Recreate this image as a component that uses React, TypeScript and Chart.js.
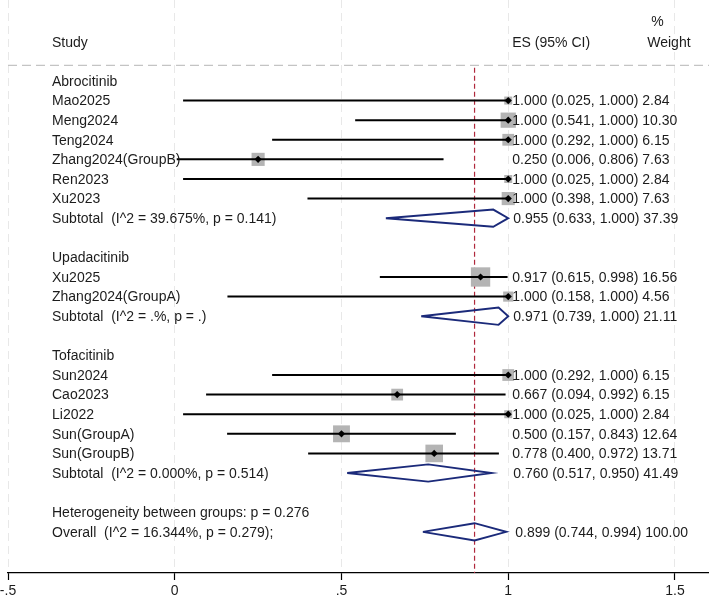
import { useEffect, useRef } from "react";
import { Chart, registerables } from "chart.js";

Chart.register(...registerables);

// ---- data ----
const GROUP_NAMES = ["Abrocitinib", "Upadacitinib", "Tofacitinib"];

const STUDY_NAMES = [
  "Mao2025",
  "Meng2024",
  "Teng2024",
  "Zhang2024(GroupB)",
  "Ren2023",
  "Xu2023",
  "Xu2025",
  "Zhang2024(GroupA)",
  "Sun2024",
  "Cao2023",
  "Li2022",
  "Sun(GroupA)",
  "Sun(GroupB)",
];
const STUDY_GROUP = [0, 0, 0, 0, 0, 0, 1, 1, 2, 2, 2, 2, 2];
const STUDY_ES = [1.0, 1.0, 1.0, 0.25, 1.0, 1.0, 0.917, 1.0, 1.0, 0.667, 1.0, 0.5, 0.778];
const STUDY_LO = [0.025, 0.541, 0.292, 0.006, 0.025, 0.398, 0.615, 0.158, 0.292, 0.094, 0.025, 0.157, 0.4];
const STUDY_HI = [1.0, 1.0, 1.0, 0.806, 1.0, 1.0, 0.998, 1.0, 1.0, 0.992, 1.0, 0.843, 0.972];
const STUDY_WEIGHT = [2.84, 10.3, 6.15, 7.63, 2.84, 7.63, 16.56, 4.56, 6.15, 6.15, 2.84, 12.64, 13.71];

const SUBTOTAL_LABELS = [
  "Subtotal  (I^2 = 39.675%, p = 0.141)",
  "Subtotal  (I^2 = .%, p = .)",
  "Subtotal  (I^2 = 0.000%, p = 0.514)",
];
const SUBTOTAL_ES = [0.955, 0.971, 0.76];
const SUBTOTAL_LO = [0.633, 0.739, 0.517];
const SUBTOTAL_HI = [1.0, 1.0, 0.95];
const SUBTOTAL_WEIGHT = [37.39, 21.11, 41.49];

const HETEROGENEITY_LABEL = "Heterogeneity between groups: p = 0.276";
const OVERALL_LABEL = "Overall  (I^2 = 16.344%, p = 0.279);";
const OVERALL_ES = 0.899;
const OVERALL_LO = 0.744;
const OVERALL_HI = 0.994;
const OVERALL_WEIGHT = 100.0;

const X_TICKS = [-0.5, 0, 0.5, 1, 1.5];
const X_TICK_LABELS = ["-.5", "0", ".5", "1", "1.5"];

// ---- row layout (one row per line of the table) ----
const studyRow: number[] = [];
const subtotalRow: number[] = [];
const groupRow: number[] = [];
let rowCursor = 0;
GROUP_NAMES.forEach((_, gi) => {
  groupRow[gi] = rowCursor++;
  STUDY_NAMES.forEach((__, si) => {
    if (STUDY_GROUP[si] === gi) studyRow[si] = rowCursor++;
  });
  subtotalRow[gi] = rowCursor++;
  rowCursor++; // blank line after each group
});
const heterogeneityRow = rowCursor++;
const overallRow = rowCursor++;

const HEADER_ROW = -2;
const PERCENT_ROW = -3.07;
const SEPARATOR_ROW = -0.8;
const Y_TOP = -4.13;
const Y_BOTTOM = overallRow + 2.1;
const X_MIN = -0.5;
const X_MAX = 1.602;
const DIAMOND_HALF = 0.44;
const SQUARE_SCALE = 4.75; // px of side per sqrt(% weight)
const AXIS_HEIGHT = 27;

const fmt = (es: number, lo: number, hi: number, w: number) =>
  `${es.toFixed(3)} (${lo.toFixed(3)}, ${hi.toFixed(3)}) ${w.toFixed(2)}`;

type Pt = { x: number; y: number | null };

function buildCiLines(): Pt[] {
  const pts: Pt[] = [];
  STUDY_NAMES.forEach((_, i) => {
    pts.push({ x: STUDY_LO[i], y: studyRow[i] });
    pts.push({ x: STUDY_HI[i], y: studyRow[i] });
    pts.push({ x: STUDY_HI[i], y: null });
  });
  return pts;
}

function diamond(es: number, lo: number, hi: number, row: number): Pt[] {
  return [
    { x: lo, y: row },
    { x: es, y: row - DIAMOND_HALF },
    { x: hi, y: row },
    { x: es, y: row + DIAMOND_HALF },
    { x: lo, y: row },
    { x: lo, y: null },
  ];
}

function buildDiamonds(): Pt[] {
  const pts: Pt[] = [];
  SUBTOTAL_ES.forEach((es, gi) => {
    pts.push(...diamond(es, SUBTOTAL_LO[gi], SUBTOTAL_HI[gi], subtotalRow[gi]));
  });
  pts.push(...diamond(OVERALL_ES, OVERALL_LO, OVERALL_HI, overallRow));
  return pts;
}

const FONT_FAMILY = '"Liberation Sans", Arial, sans-serif';
const FONT = `14px ${FONT_FAMILY}`;
const TEXT_COLOR = "#1c1c1c";

const tablePlugin = {
  id: "forestTable",
  afterDatasetsDraw(chart: any) {
    const { ctx, chartArea } = chart;
    const x = chart.scales.x;
    const y = chart.scales.y;
    const leftX = chartArea.left + 44;
    const esX = x.getPixelForValue(1) + 4;
    const wtX = esX + 135;
    ctx.save();
    ctx.font = FONT;
    ctx.fillStyle = TEXT_COLOR;
    ctx.textAlign = "left";
    ctx.textBaseline = "middle";
    const put = (t: string, px: number, row: number) => ctx.fillText(t, px, y.getPixelForValue(row) + 1);

    put("Study", leftX, HEADER_ROW);
    put("ES (95% CI)", esX, HEADER_ROW);
    put("%", wtX + 4, PERCENT_ROW);
    put("Weight", wtX, HEADER_ROW);

    GROUP_NAMES.forEach((g, gi) => {
      put(g, leftX, groupRow[gi]);
      put(SUBTOTAL_LABELS[gi], leftX, subtotalRow[gi]);
      put(fmt(SUBTOTAL_ES[gi], SUBTOTAL_LO[gi], SUBTOTAL_HI[gi], SUBTOTAL_WEIGHT[gi]), esX + 1, subtotalRow[gi]);
    });
    STUDY_NAMES.forEach((s, i) => {
      put(s, leftX, studyRow[i]);
      put(fmt(STUDY_ES[i], STUDY_LO[i], STUDY_HI[i], STUDY_WEIGHT[i]), esX, studyRow[i]);
    });
    put(HETEROGENEITY_LABEL, leftX, heterogeneityRow);
    put(OVERALL_LABEL, leftX, overallRow);
    put(fmt(OVERALL_ES, OVERALL_LO, OVERALL_HI, OVERALL_WEIGHT), esX + 3, overallRow);
    ctx.restore();
  },
};

export default function App() {
  const canvasRef = useRef<HTMLCanvasElement | null>(null);

  useEffect(() => {
    const canvas = canvasRef.current;
    if (!canvas) return;

    const chart = new Chart(canvas, {
      type: "scatter",
      data: {
        datasets: [
          {
            // point estimate markers
            data: STUDY_ES.map((es, i) => ({ x: es, y: studyRow[i] })),
            pointStyle: "rectRot",
            pointRadius: 3.6,
            backgroundColor: "#000",
            borderColor: "#000",
            borderWidth: 0,
            order: 0,
          },
          {
            // confidence intervals
            data: buildCiLines(),
            showLine: true,
            spanGaps: false,
            borderColor: "#000",
            borderWidth: 2,
            pointRadius: 0,
            order: 1,
          },
          {
            // pooled estimates
            data: buildDiamonds(),
            showLine: true,
            spanGaps: false,
            borderColor: "#1b2a7a",
            borderWidth: 1.9,
            pointRadius: 0,
            order: 2,
          },
          {
            // study weights
            data: STUDY_ES.map((es, i) => ({ x: es, y: studyRow[i] })),
            pointStyle: "rect",
            pointRadius: (c: any) => (SQUARE_SCALE * Math.sqrt(STUDY_WEIGHT[c.dataIndex])) / Math.SQRT2,
            backgroundColor: "#b4b4b4",
            borderWidth: 0,
            order: 3,
          },
          {
            // overall effect reference
            data: [
              { x: OVERALL_ES, y: SEPARATOR_ROW + 0.12 },
              { x: OVERALL_ES, y: Y_BOTTOM },
            ],
            showLine: true,
            borderColor: "#b0283c",
            borderWidth: 1.2,
            borderDash: [5, 3],
            pointRadius: 0,
            order: 4,
          },
          {
            // header separator
            data: [
              { x: X_MIN, y: SEPARATOR_ROW },
              { x: X_MAX, y: SEPARATOR_ROW },
            ],
            showLine: true,
            borderColor: "#c4c4c4",
            borderWidth: 1.2,
            borderDash: [9, 5],
            pointRadius: 0,
            order: 5,
          },
        ],
      },
      options: {
        animation: false,
        responsive: false,
        devicePixelRatio: 1,
        layout: { autoPadding: false, padding: { left: 8, right: 0, top: 0, bottom: 0 } },
        plugins: { legend: { display: false }, tooltip: { enabled: false } },
        scales: {
          x: {
            type: "linear",
            min: X_MIN,
            max: X_MAX,
            afterBuildTicks: (scale: any) => {
              scale.ticks = X_TICKS.map((v) => ({ value: v }));
            },
            afterFit: (scale: any) => {
              scale.height = AXIS_HEIGHT;
              scale.paddingLeft = 0;
              scale.paddingRight = 0;
            },
            ticks: {
              callback: (v: any) => {
                const i = X_TICKS.indexOf(Number(v));
                return i >= 0 ? X_TICK_LABELS[i] : "";
              },
              font: { family: FONT_FAMILY, size: 14 },
              color: TEXT_COLOR,
              padding: 3,
              maxRotation: 0,
              autoSkip: false,
            },
            grid: {
              color: "#e8e8e8",
              lineWidth: 1,
              tickColor: "#000",
              tickLength: 7,
              tickWidth: 1.2,
              tickBorderDash: [],
            },
            border: { display: true, color: "#000", width: 1.2, dash: [8, 5] },
          },
          y: {
            type: "linear",
            display: false,
            reverse: true,
            min: Y_TOP,
            max: Y_BOTTOM,
          },
        },
      },
      plugins: [tablePlugin],
    });

    return () => chart.destroy();
  }, []);

  return (
    <canvas
      ref={canvasRef}
      width={709}
      height={600}
      style={{ position: "absolute", left: 0, top: 0, width: 709, height: 600 }}
    />
  );
}
